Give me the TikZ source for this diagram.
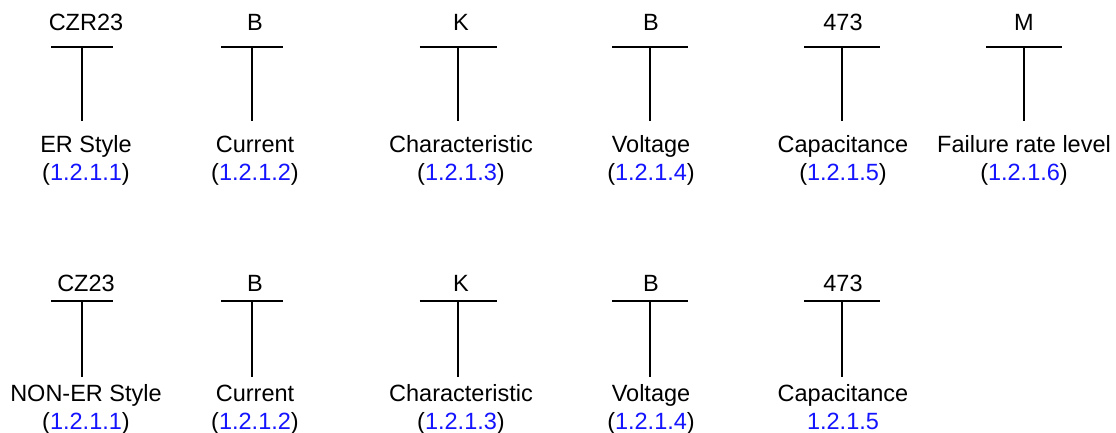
\documentclass[tikz,border=0pt]{standalone}
\usepackage{fontspec}
\setmainfont{Liberation Sans}
\definecolor{refblue}{RGB}{20,20,255}
\begin{document}
\begin{tikzpicture}[x=1pt,y=-1pt,
  txt/.style={inner sep=0pt,anchor=base,font=\fontsize{23.5}{28}\selectfont},
  bar/.style={line width=2pt}]
\useasboundingbox (0,0) rectangle (1116,433);
% ---------- Row 1 ----------
\foreach \n/\sx/\tx/\hw/\top/\lab/\num in {
  a/82/86/31/CZR23/ER Style/1.2.1.1,
  b/252/255/31/B/Current/1.2.1.2,
  c/458/461/38.5/K/Characteristic/1.2.1.3,
  d/650/651/38/B/Voltage/1.2.1.4,
  e/842/843/38/473/Capacitance/1.2.1.5,
  f/1024/1024/38/M/Failure rate level/1.2.1.6}{
  \node[txt] (\n top) at (\tx,31) {\top};
  \coordinate (\n L) at (\sx-\hw,47);
  \coordinate (\n R) at (\sx+\hw,47);
  \coordinate (\n S) at (\sx,47);
  \coordinate (\n E) at (\sx,121);
  \draw[bar] (\n L) -- (\n R);
  \draw[bar] (\n S) -- (\n E);
  \node[txt] (\n lab) at (\tx,152.7) {\lab};
  \node[txt] (\n num) at (\tx,180) {(\textcolor{refblue}{\num})};
}
% ---------- Row 2 ----------
\foreach \n/\sx/\tx/\hw/\top/\lab in {
  g/82/86/31/CZ23/NON-ER Style,
  h/252/255/31/B/Current,
  i/458/461/38.5/K/Characteristic,
  j/650/651/38/B/Voltage,
  k/842/843/38/473/Capacitance}{
  \node[txt] (\n top) at (\tx,291.5) {\top};
  \coordinate (\n L) at (\sx-\hw,301);
  \coordinate (\n R) at (\sx+\hw,301);
  \coordinate (\n S) at (\sx,301);
  \coordinate (\n E) at (\sx,377);
  \draw[bar] (\n L) -- (\n R);
  \draw[bar] (\n S) -- (\n E);
  \node[txt] (\n lab) at (\tx,401.7) {\lab};
}
\node[txt] (gnum) at (86,429) {(\textcolor{refblue}{1.2.1.1})};
\node[txt] (hnum) at (255,429) {(\textcolor{refblue}{1.2.1.2})};
\node[txt] (inum) at (461,429) {(\textcolor{refblue}{1.2.1.3})};
\node[txt] (jnum) at (651,429) {(\textcolor{refblue}{1.2.1.4})};
\node[txt] (knum) at (843,429) {\textcolor{refblue}{1.2.1.5}};
\end{tikzpicture}
\end{document}
